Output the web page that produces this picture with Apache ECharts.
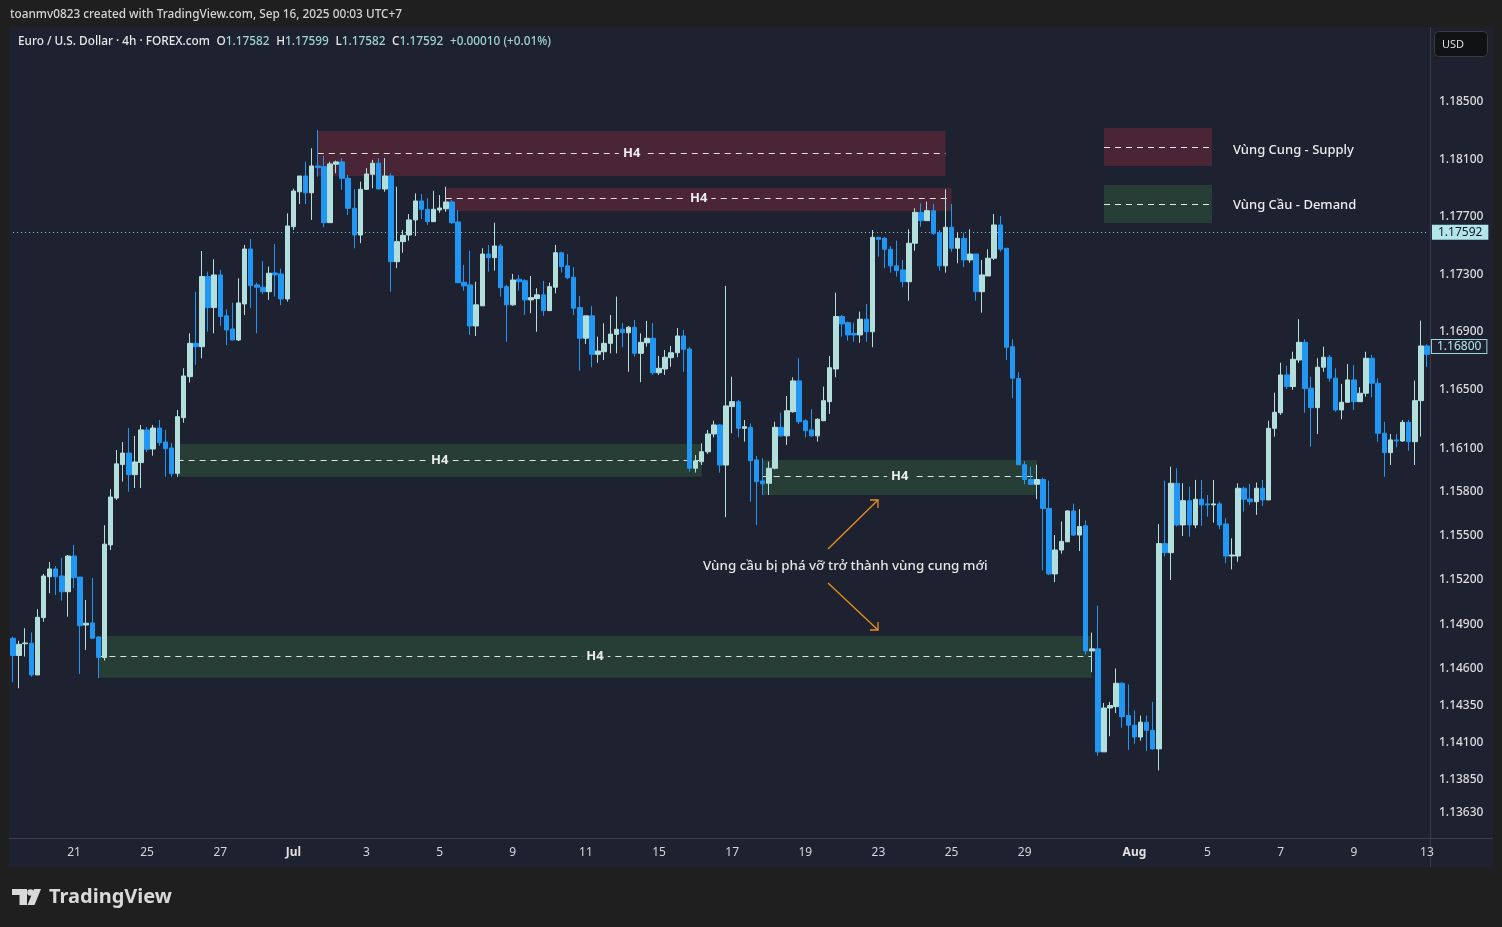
<!DOCTYPE html>
<html>
<head>
<meta charset="utf-8">
<title>EUR/USD 4h - Vùng Cung / Vùng Cầu</title>
<script src="https://cdn.jsdelivr.net/npm/echarts@6/dist/echarts.min.js"></script>
<style>
  html, body { margin: 0; padding: 0; background: #1f1f1f; }
  #chart { width: 1502px; height: 927px; }
</style>
</head>
<body>
<div id="chart"></div>
<script>
// ====== 4h candles (21 Jun -> 13 Aug) ======
const opens = [
  1.14804, 1.14687, 1.14767, 1.14770, 1.14555, 1.14944, 1.15222, 1.15275, 1.15227, 1.15120,
  1.15363, 1.15220, 1.14894, 1.14908, 1.14812, 1.14673, 1.15439, 1.15759, 1.15988, 1.16067,
  1.15919, 1.16002, 1.16226, 1.16095, 1.16239, 1.16143, 1.16102, 1.15928, 1.16310, 1.16592,
  1.16822, 1.16799, 1.17284, 1.17069, 1.17295, 1.17012, 1.16921, 1.16845, 1.17094, 1.17475,
  1.17226, 1.17210, 1.17179, 1.17309, 1.17302, 1.17129, 1.17630, 1.17873, 1.17983, 1.17866,
  1.18053, 1.18048, 1.17658, 1.18065, 1.18081, 1.17967, 1.17758, 1.17572, 1.17890, 1.17995,
  1.18072, 1.17892, 1.17983, 1.17387, 1.17526, 1.17572, 1.17677, 1.17809, 1.17751, 1.17665,
  1.17746, 1.17755, 1.17802, 1.17663, 1.17244, 1.17226, 1.16942, 1.17081, 1.17440, 1.17415,
  1.17496, 1.17214, 1.17088, 1.17265, 1.17255, 1.17122, 1.17131, 1.17157, 1.17048, 1.17210,
  1.17449, 1.17358, 1.17279, 1.17069, 1.16857, 1.17012, 1.16746, 1.16764, 1.16822, 1.16884,
  1.16919, 1.16895, 1.16933, 1.16753, 1.16826, 1.16857, 1.16619, 1.16645, 1.16723, 1.16757,
  1.16873, 1.16783, 1.15963, 1.16008, 1.16076, 1.16198, 1.16260, 1.15985, 1.16386, 1.16420,
  1.16237, 1.16244, 1.16020, 1.15876, 1.15860, 1.15963, 1.16244, 1.16185, 1.16351, 1.16563,
  1.16289, 1.16226, 1.16185, 1.16289, 1.16420, 1.16645, 1.17007, 1.16965, 1.16891, 1.16880,
  1.16989, 1.16902, 1.17556, 1.17549, 1.17473, 1.17358, 1.17330, 1.17248, 1.17515, 1.17730,
  1.17672, 1.17741, 1.17588, 1.17358, 1.17626, 1.17480, 1.17549, 1.17399, 1.17440, 1.17179,
  1.17288, 1.17411, 1.17642, 1.17480, 1.16799, 1.16580, 1.15987, 1.15886, 1.15853, 1.15886,
  1.15688, 1.15241, 1.15404, 1.15460, 1.15671, 1.15506, 1.15569, 1.14718, 1.14732, 1.14036,
  1.14332, 1.14341, 1.14499, 1.14281, 1.14216, 1.14136, 1.14236, 1.14181, 1.14056, 1.15448,
  1.15386, 1.15860, 1.15575, 1.15741, 1.15575, 1.15751, 1.15719, 1.15712, 1.15719, 1.15582,
  1.15363, 1.15363, 1.15826, 1.15753, 1.15734, 1.15826, 1.15746, 1.16237, 1.16344, 1.16604,
  1.16524, 1.16707, 1.16829, 1.16513, 1.16379, 1.16657, 1.16726, 1.16582, 1.16363, 1.16416,
  1.16570, 1.16420, 1.16478, 1.16719, 1.16547, 1.16203, 1.16070, 1.16157, 1.16150, 1.16278,
  1.16145, 1.16427, 1.16804
];
const closes = [
  1.14687, 1.14763, 1.14772, 1.14555, 1.14946, 1.15227, 1.15275, 1.15222, 1.15120, 1.15363,
  1.15216, 1.14889, 1.14906, 1.14804, 1.14673, 1.15444, 1.15766, 1.15993, 1.16067, 1.15919,
  1.16006, 1.16226, 1.16093, 1.16239, 1.16138, 1.16097, 1.15926, 1.16317, 1.16597, 1.16822,
  1.16799, 1.17284, 1.17069, 1.17295, 1.17007, 1.16914, 1.16845, 1.17101, 1.17475, 1.17221,
  1.17210, 1.17179, 1.17307, 1.17295, 1.17129, 1.17635, 1.17878, 1.17983, 1.17866, 1.18053,
  1.18041, 1.17658, 1.18067, 1.18081, 1.17967, 1.17758, 1.17572, 1.17890, 1.17997, 1.18072,
  1.17892, 1.17983, 1.17387, 1.17526, 1.17570, 1.17677, 1.17809, 1.17751, 1.17665, 1.17751,
  1.17760, 1.17802, 1.17658, 1.17241, 1.17219, 1.16942, 1.17088, 1.17440, 1.17415, 1.17496,
  1.17207, 1.17088, 1.17260, 1.17248, 1.17122, 1.17138, 1.17157, 1.17048, 1.17214, 1.17449,
  1.17353, 1.17276, 1.17065, 1.16857, 1.17012, 1.16746, 1.16769, 1.16822, 1.16886, 1.16919,
  1.16895, 1.16933, 1.16753, 1.16829, 1.16857, 1.16619, 1.16650, 1.16726, 1.16757, 1.16873,
  1.16781, 1.15963, 1.16013, 1.16076, 1.16198, 1.16260, 1.15985, 1.16391, 1.16420, 1.16237,
  1.16248, 1.16015, 1.15871, 1.15856, 1.15963, 1.16244, 1.16185, 1.16358, 1.16563, 1.16282,
  1.16221, 1.16185, 1.16299, 1.16427, 1.16654, 1.17007, 1.16956, 1.16880, 1.16880, 1.16989,
  1.16902, 1.17556, 1.17542, 1.17473, 1.17358, 1.17325, 1.17248, 1.17515, 1.17730, 1.17672,
  1.17741, 1.17584, 1.17358, 1.17626, 1.17480, 1.17549, 1.17399, 1.17440, 1.17179, 1.17295,
  1.17411, 1.17642, 1.17473, 1.16795, 1.16582, 1.15987, 1.15886, 1.15853, 1.15886, 1.15688,
  1.15241, 1.15404, 1.15463, 1.15671, 1.15506, 1.15564, 1.14718, 1.14732, 1.14036, 1.14332,
  1.14348, 1.14499, 1.14273, 1.14216, 1.14136, 1.14236, 1.14181, 1.14056, 1.15448, 1.15386,
  1.15860, 1.15575, 1.15741, 1.15575, 1.15751, 1.15712, 1.15712, 1.15719, 1.15575, 1.15363,
  1.15370, 1.15826, 1.15751, 1.15734, 1.15826, 1.15746, 1.16237, 1.16347, 1.16604, 1.16524,
  1.16712, 1.16829, 1.16510, 1.16379, 1.16657, 1.16726, 1.16582, 1.16363, 1.16416, 1.16570,
  1.16420, 1.16478, 1.16719, 1.16547, 1.16203, 1.16070, 1.16157, 1.16150, 1.16278, 1.16145,
  1.16427, 1.16804, 1.16746
];
const lows = [
  1.14506, 1.14465, 1.14680, 1.14544, 1.14555, 1.14916, 1.15110, 1.15098, 1.15059, 1.14950,
  1.15144, 1.14562, 1.14725, 1.14799, 1.14533, 1.14652, 1.15404, 1.15746, 1.15871, 1.15802,
  1.15828, 1.15828, 1.16074, 1.16049, 1.16116, 1.15905, 1.15905, 1.15905, 1.16276, 1.16552,
  1.16673, 1.16719, 1.16902, 1.16891, 1.16943, 1.16810, 1.16845, 1.16838, 1.17018, 1.17065,
  1.16891, 1.17163, 1.17122, 1.17145, 1.17086, 1.17110, 1.17607, 1.17788, 1.17788, 1.17677,
  1.17978, 1.17626, 1.17658, 1.18002, 1.17885, 1.17711, 1.17480, 1.17515, 1.17885, 1.17897,
  1.17890, 1.17873, 1.17179, 1.17342, 1.17449, 1.17533, 1.17565, 1.17682, 1.17642, 1.17665,
  1.17727, 1.17734, 1.17649, 1.17239, 1.17186, 1.16880, 1.16873, 1.17081, 1.17318, 1.17325,
  1.17145, 1.16833, 1.17081, 1.17186, 1.17018, 1.17030, 1.16902, 1.17012, 1.17048, 1.17168,
  1.17311, 1.17265, 1.17018, 1.16633, 1.16817, 1.16657, 1.16688, 1.16707, 1.16753, 1.16753,
  1.16795, 1.16626, 1.16730, 1.16554, 1.16799, 1.16604, 1.16604, 1.16604, 1.16661, 1.16726,
  1.16626, 1.15939, 1.15933, 1.15985, 1.16061, 1.16175, 1.15933, 1.15628, 1.16203, 1.16175,
  1.16145, 1.15734, 1.15575, 1.15780, 1.15780, 1.15956, 1.16180, 1.16123, 1.16344, 1.16267,
  1.16175, 1.16180, 1.16145, 1.16289, 1.16336, 1.16588, 1.16868, 1.16840, 1.16833, 1.16826,
  1.16833, 1.16795, 1.17422, 1.17342, 1.17311, 1.17284, 1.17210, 1.17117, 1.17463, 1.17630,
  1.17672, 1.17572, 1.17325, 1.17311, 1.17456, 1.17376, 1.17349, 1.17380, 1.17117, 1.17034,
  1.17288, 1.17399, 1.17456, 1.16707, 1.16444, 1.15987, 1.15853, 1.15848, 1.15751, 1.15265,
  1.15234, 1.15185, 1.15379, 1.15460, 1.15500, 1.15397, 1.14693, 1.14574, 1.14011, 1.14035,
  1.14141, 1.14298, 1.14199, 1.14049, 1.14091, 1.14111, 1.14042, 1.14049, 1.13911, 1.15361,
  1.15200, 1.15564, 1.15500, 1.15495, 1.15553, 1.15568, 1.15632, 1.15591, 1.15546, 1.15313,
  1.15272, 1.15324, 1.15666, 1.15712, 1.15644, 1.15705, 1.15746, 1.16180, 1.16329, 1.16506,
  1.16501, 1.16688, 1.16344, 1.16111, 1.16198, 1.16626, 1.16558, 1.16351, 1.16299, 1.16416,
  1.16363, 1.16420, 1.16455, 1.16450, 1.16145, 1.15905, 1.15985, 1.16106, 1.16143, 1.16083,
  1.15985, 1.16180, 1.16657
];
const highs = [
  1.14814, 1.14787, 1.14872, 1.14844, 1.15001, 1.15241, 1.15322, 1.15295, 1.15350, 1.15370,
  1.15439, 1.15220, 1.15064, 1.15214, 1.14819, 1.15573, 1.15819, 1.16088, 1.16143, 1.16239,
  1.16185, 1.16260, 1.16246, 1.16260, 1.16294, 1.16226, 1.16136, 1.16363, 1.16650, 1.16891,
  1.17179, 1.17461, 1.17318, 1.17404, 1.17330, 1.17058, 1.17103, 1.17272, 1.17503, 1.17545,
  1.17241, 1.17392, 1.17353, 1.17510, 1.17339, 1.17723, 1.17894, 1.17983, 1.18083, 1.18176,
  1.18304, 1.18123, 1.18083, 1.18090, 1.18107, 1.17990, 1.17890, 1.17943, 1.18037, 1.18095,
  1.18107, 1.18107, 1.18002, 1.17908, 1.17607, 1.17718, 1.17862, 1.17857, 1.17828, 1.17880,
  1.17850, 1.17908, 1.17816, 1.17746, 1.17365, 1.17463, 1.17248, 1.17480, 1.17503, 1.17658,
  1.17510, 1.17226, 1.17302, 1.17295, 1.17265, 1.17288, 1.17203, 1.17253, 1.17241, 1.17503,
  1.17456, 1.17440, 1.17349, 1.17150, 1.17012, 1.17081, 1.16868, 1.16961, 1.17018, 1.17145,
  1.16961, 1.16942, 1.16984, 1.16891, 1.16977, 1.16961, 1.16735, 1.16776, 1.16804, 1.16928,
  1.16914, 1.16799, 1.16054, 1.16134, 1.16226, 1.16289, 1.16267, 1.17219, 1.16592, 1.16432,
  1.16294, 1.16271, 1.16047, 1.16032, 1.16008, 1.16282, 1.16344, 1.16459, 1.16588, 1.16719,
  1.16299, 1.16368, 1.16306, 1.16524, 1.16735, 1.17172, 1.17018, 1.16972, 1.16965, 1.17041,
  1.17094, 1.17607, 1.17560, 1.17560, 1.17496, 1.17533, 1.17399, 1.17612, 1.17758, 1.17793,
  1.17804, 1.17788, 1.17607, 1.17890, 1.17788, 1.17588, 1.17588, 1.17612, 1.17440, 1.17399,
  1.17473, 1.17718, 1.17705, 1.17480, 1.16850, 1.16623, 1.16012, 1.15974, 1.15987, 1.15898,
  1.15878, 1.15506, 1.15599, 1.15675, 1.15721, 1.15683, 1.15606, 1.14842, 1.15026, 1.14366,
  1.14373, 1.14599, 1.14506, 1.14491, 1.14316, 1.14281, 1.14281, 1.14373, 1.15581, 1.15878,
  1.15974, 1.15963, 1.15860, 1.15837, 1.15883, 1.15883, 1.15780, 1.15883, 1.15734, 1.15621,
  1.15484, 1.15860, 1.15837, 1.15856, 1.15865, 1.15883, 1.16289, 1.16482, 1.16688, 1.16666,
  1.16764, 1.16989, 1.16850, 1.16592, 1.16719, 1.16799, 1.16742, 1.16650, 1.16542, 1.16679,
  1.16673, 1.16520, 1.16764, 1.16742, 1.16582, 1.16282, 1.16198, 1.16198, 1.16294, 1.16294,
  1.16565, 1.16979, 1.16815
];
const categories = opens.map((_, i) => String(i));

// 时间轴标签 (bar index -> text)
const xTickIdx = [10, 22, 34, 46, 58, 70, 82, 94, 106, 118, 130, 142, 154, 166, 184, 196, 208, 220, 232];
const xTickText = ['21', '25', '27', 'Jul', '3', '5', '9', '11', '15', '17', '19', '23', '25', '29', 'Aug', '5', '7', '9', '13'];

// price scale labels on the right
const yTicks = [1.185, 1.181, 1.177, 1.173, 1.169, 1.165, 1.161, 1.158, 1.155, 1.152, 1.149, 1.146, 1.1435, 1.141, 1.1385, 1.1363];

const lastPrice = 1.17592;
const lastVisible = 1.168;

// zones: [fromBar, toBar, top, bottom, midline]
const supplyZones = [
  [50, 153, 1.18297, 1.17983, 1.18144],
  [71, 154, 1.17899, 1.17739, 1.17826],
];
const demandZones = [
  [27, 113, 1.16129, 1.15905, 1.16018],
  [123, 168, 1.16020, 1.15780, 1.15905],
  [14, 177, 1.14819, 1.14537, 1.14682],
];

const UP = '#b2dfdb';
const DOWN = '#2196f3';
const SUPPLY_BG = '#4a2536';
const DEMAND_BG = '#263e36';
const PANE = '#1e2130';
const FRAME = '#1f1f1f';
const SEP = '#3b3e49';
const FONT = '"Noto Sans", "DejaVu Sans", sans-serif';

const candles = opens.map((o, i) => [o, closes[i], lows[i], highs[i]]);
const lastBar = opens.length - 1;

const zoneAreas = [];
const markLines = [];
function addZone(z, bg) {
  zoneAreas.push([
    { coord: [z[0], z[2]], itemStyle: { color: bg } },
    { coord: [z[1], z[3]] },
  ]);
  markLines.push([
    {
      coord: [z[0], z[4]],
      lineStyle: { color: 'rgba(255,255,255,0.85)', type: [6, 5], width: 1 },
      label: {
        show: true, position: 'middle', distance: 0, verticalAlign: 'middle',
        formatter: 'H4',
        color: '#ececec', fontSize: 13, fontWeight: 'bold', fontFamily: FONT,
        backgroundColor: bg, padding: [1, 4],
      },
    },
    { coord: [z[1], z[4]] },
  ]);
}
supplyZones.forEach((z) => addZone(z, SUPPLY_BG));
demandZones.forEach((z) => addZone(z, DEMAND_BG));

// current price line + tag, and the tag of the last visible bar
markLines.push([
  {
    coord: [0, lastPrice],
    lineStyle: { color: '#80d8d8', type: [1, 3], width: 1 },
    label: {
      show: true, position: 'end', distance: 5,
      formatter: lastPrice.toFixed(5),
      color: '#131722', backgroundColor: '#b2e6ea',
      fontSize: 12, fontFamily: FONT, padding: [2, 6, 1, 6],
    },
  },
  { coord: [lastBar, lastPrice] },
]);
markLines.push([
  {
    coord: [0, lastVisible],
    lineStyle: { color: 'rgba(0,0,0,0)', width: 1 },
    label: {
      show: true, position: 'end', distance: 5,
      formatter: lastVisible.toFixed(5),
      color: '#b2e6ea', backgroundColor: PANE,
      borderColor: '#9fd6d6', borderWidth: 1,
      fontSize: 12, fontFamily: FONT, padding: [1, 5, 0, 5],
    },
  },
  { coord: [lastBar, lastVisible] },
]);

const chart = echarts.init(document.getElementById('chart'));

const option = {
  backgroundColor: PANE,
  animation: false,
  grid: { left: 10, right: 72, top: 28, bottom: 89 },
  xAxis: {
    type: 'category',
    data: categories,
    boundaryGap: true,
    axisLine: { show: false },
    axisTick: { show: false },
    splitLine: { show: false },
    axisLabel: {
      color: '#d6d6d6',
      fontSize: 12,
      fontFamily: FONT,
      margin: 9,
      interval: (i) => xTickIdx.includes(i),
      formatter: (v, i) => {
        const k = xTickIdx.indexOf(i);
        if (k < 0) return '';
        const t = xTickText[k];
        return /[A-Za-z]/.test(t) ? `{b|${t}}` : t;
      },
      rich: { b: { fontWeight: 'bold', fontSize: 12, color: '#e0e0e0', fontFamily: FONT } },
    },
  },
  yAxis: {
    type: 'log',
    logBase: 10,
    position: 'right',
    min: 1.13457,
    max: 1.19019,
    axisLine: { show: false },
    axisTick: { show: false },
    splitLine: { show: false },
    axisLabel: {
      customValues: yTicks,
      color: '#dcdcdc',
      fontSize: 12,
      fontWeight: 500,
      fontFamily: FONT,
      margin: 9,
      formatter: (v) => Number(v).toFixed(5),
    },
  },
  series: [
    {
      type: 'candlestick',
      name: 'EURUSD',
      data: candles,
      barWidth: 5,
      itemStyle: {
        color: UP, color0: DOWN,
        borderColor: UP, borderColor0: DOWN,
        borderWidth: 1,
      },
      markArea: { silent: true, z: 1, data: zoneAreas },
      markLine: {
        silent: true, z: 1,
        symbol: ['none', 'none'],
        animation: false,
        data: markLines,
      },
    },
  ],
  graphic: [
    // outer frame of the snapshot
    { type: 'rect', shape: { x: 0, y: 0, width: 1502, height: 27 }, style: { fill: FRAME }, silent: true },
    { type: 'rect', shape: { x: 0, y: 867, width: 1502, height: 60 }, style: { fill: FRAME }, silent: true },
    { type: 'rect', shape: { x: 0, y: 0, width: 9, height: 927 }, style: { fill: FRAME }, silent: true },
    { type: 'rect', shape: { x: 1493, y: 0, width: 9, height: 927 }, style: { fill: FRAME }, silent: true },
    // pane separators
    { type: 'line', shape: { x1: 1430.5, y1: 27, x2: 1430.5, y2: 867 }, style: { stroke: SEP, lineWidth: 1 }, silent: true },
    { type: 'line', shape: { x1: 9, y1: 838.5, x2: 1493, y2: 838.5 }, style: { stroke: SEP, lineWidth: 1 }, silent: true },
    {
      type: 'text', left: 10, top: 9,
      style: { text: 'toanmv0823 created with TradingView.com, Sep 16, 2025 00:03 UTC+7', fill: '#d4d4d4', font: `500 11.8px ${FONT}` },
    },
    {
      type: 'text', left: 18, top: 36,
      style: {
        text: '{w|Euro / U.S. Dollar · 4h · FOREX.com}  {w|O}{v|1.17582}  {w|H}{v|1.17599}  {w|L}{v|1.17582}  {w|C}{v|1.17592}  {v|+0.00010 (+0.01%)}',
        rich: {
          w: { fill: '#e8e8e8', font: `500 11.8px ${FONT}` },
          v: { fill: '#9fd3cf', font: `500 11.8px ${FONT}` },
        },
      },
    },
    // USD box
    { type: 'rect', shape: { x: 1434.5, y: 31.5, width: 53, height: 25, r: 4 }, style: { fill: '#111214', stroke: '#3c3c3c', lineWidth: 1 } },
    { type: 'text', left: 1442, top: 39, style: { text: 'USD', fill: '#dddddd', font: `11px ${FONT}` } },
    // legend
    { type: 'rect', shape: { x: 1104, y: 128, width: 108, height: 38 }, style: { fill: SUPPLY_BG } },
    { type: 'line', shape: { x1: 1104, y1: 147.5, x2: 1212, y2: 147.5 }, style: { stroke: '#e8e8e8', lineWidth: 1, lineDash: [6, 5] } },
    { type: 'rect', shape: { x: 1104, y: 185, width: 108, height: 38 }, style: { fill: DEMAND_BG } },
    { type: 'line', shape: { x1: 1104, y1: 204.5, x2: 1212, y2: 204.5 }, style: { stroke: '#e8e8e8', lineWidth: 1, lineDash: [6, 5] } },
    { type: 'text', left: 1233, top: 144, style: { text: 'Vùng Cung - Supply', fill: '#ececec', font: `500 13px ${FONT}` } },
    { type: 'text', left: 1233, top: 199, style: { text: 'Vùng Cầu - Demand', fill: '#ececec', font: `500 13px ${FONT}` } },
    // annotation
    { type: 'text', left: 703, top: 560, style: { text: 'Vùng cầu bị phá vỡ trở thành vùng cung mới', fill: '#e6e6e6', font: `500 13.4px ${FONT}` } },
    { type: 'polyline', shape: { points: [[828, 549], [878, 500]] }, style: { stroke: '#e8901c', lineWidth: 1.3, fill: null } },
    { type: 'polyline', shape: { points: [[870, 500], [878, 500], [878, 508]] }, style: { stroke: '#e8901c', lineWidth: 1.3, fill: null } },
    { type: 'polyline', shape: { points: [[828, 583], [878, 630]] }, style: { stroke: '#e8901c', lineWidth: 1.3, fill: null } },
    { type: 'polyline', shape: { points: [[870, 630], [878, 630], [878, 622]] }, style: { stroke: '#e8901c', lineWidth: 1.3, fill: null } },
    // TradingView logo
    { type: 'rect', shape: { x: 12, y: 889, width: 15, height: 6 }, style: { fill: '#d9d9d9' } },
    { type: 'rect', shape: { x: 19.5, y: 889, width: 7.5, height: 16 }, style: { fill: '#d9d9d9' } },
    { type: 'circle', shape: { cx: 30.5, cy: 892.5, r: 3.3 }, style: { fill: '#d9d9d9' } },
    { type: 'polygon', shape: { points: [[34, 889], [41, 889], [34.5, 905], [27.5, 905]] }, style: { fill: '#d9d9d9' } },
    { type: 'text', left: 49, top: 887, style: { text: 'TradingView', fill: '#d9d9d9', font: `bold 20px ${FONT}` } },
  ],
};

chart.setOption(option);
</script>
</body>
</html>
